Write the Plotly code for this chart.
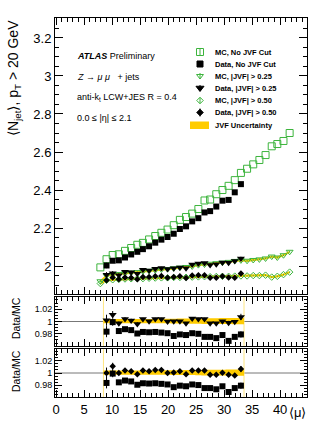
import plotly.graph_objects as go

# ---------------- data ----------------
mu_mc = [7.9, 9.0, 10.1, 11.2, 12.3, 13.4, 14.5, 15.5, 16.6, 17.7, 18.8, 19.9, 21.0, 22.1,
         23.2, 24.3, 25.4, 26.5, 27.5, 28.6, 29.7, 30.8, 31.9, 33.0, 34.1, 35.2, 36.3,
         37.4, 38.5, 39.5, 40.6, 41.7]
mu_data = [9.0, 10.1, 11.2, 12.3, 13.4, 14.5, 15.5, 16.6, 17.7, 18.8, 19.9, 21.0, 22.1,
           23.2, 24.3, 25.4, 26.5, 27.5, 28.6, 29.7, 30.8, 31.9, 33.0]

mc_nocut = [1.993, 2.036, 2.058, 2.062, 2.080, 2.095, 2.112, 2.122, 2.140, 2.158, 2.175,
            2.192, 2.215, 2.243, 2.258, 2.276, 2.300, 2.345, 2.350, 2.378, 2.400, 2.422,
            2.452, 2.490, 2.512, 2.535, 2.558, 2.584, 2.630, 2.642, 2.658, 2.700]
mc_jvf025 = [1.920, 1.950, 1.955, 1.958, 1.962, 1.965, 1.968, 1.972, 1.975, 1.978, 1.982,
             1.984, 1.988, 1.992, 1.995, 1.998, 2.005, 2.008, 2.012, 2.015, 2.018, 2.022,
             2.027, 2.030, 2.028, 2.032, 2.035, 2.040, 2.050, 2.045, 2.057, 2.075]
mc_jvf050 = [1.908, 1.925, 1.928, 1.930, 1.932, 1.933, 1.934, 1.934, 1.936, 1.937, 1.938,
             1.938, 1.940, 1.940, 1.941, 1.942, 1.943, 1.944, 1.944, 1.945, 1.946, 1.946,
             1.947, 1.948, 1.948, 1.950, 1.950, 1.952, 1.942, 1.946, 1.955, 1.968]
mc_unc = [0.006] * 32

data_nocut = [2.003, 2.028, 2.030, 2.045, 2.061, 2.075, 2.089, 2.104, 2.123, 2.139, 2.153,
              2.170, 2.195, 2.209, 2.235, 2.252, 2.282, 2.289, 2.313, 2.344, 2.348, 2.388, 2.431]
data_jvf025 = [1.954, 1.962, 1.952, 1.970, 1.968, 1.960, 1.980, 1.976, 1.986, 1.990, 1.984,
               1.989, 1.993, 1.989, 2.008, 2.013, 2.016, 2.006, 2.009, 2.019, 2.018, 2.026, 2.040]
data_jvf050 = [1.925, 1.940, 1.930, 1.940, 1.939, 1.930, 1.942, 1.942, 1.947, 1.948, 1.938,
               1.942, 1.946, 1.937, 1.950, 1.951, 1.952, 1.938, 1.939, 1.947, 1.940, 1.939, 1.961]
data_err = [0.014, 0.012, 0.009, 0.008, 0.007, 0.007, 0.006, 0.006, 0.006, 0.006, 0.006,
            0.006, 0.006, 0.006, 0.006, 0.006, 0.006, 0.006, 0.006, 0.006, 0.007, 0.007, 0.009]

ratio_nocut = [0.9835, 0.999, 0.9845, 0.9875, 0.986, 0.9805, 0.983, 0.9825, 0.983, 0.982,
               0.981, 0.9765, 0.979, 0.978, 0.981, 0.980, 0.975, 0.975, 0.973, 0.978,
               0.9685, 0.975, 0.979]
ratio_jvf025 = [1.002, 1.011, 0.997, 1.004, 1.0015, 0.996, 1.004, 1.0005, 1.004, 1.004,
                1.000, 1.0005, 1.0005, 0.997, 1.005, 1.004, 1.004, 0.997, 0.997, 1.0005,
                0.998, 0.9995, 1.0075]
ratio_jvf050 = [1.000, 1.011, 1.000, 1.004, 1.003, 0.998, 1.004, 1.003, 1.005, 1.005,
                1.000, 1.001, 1.003, 0.998, 1.004, 1.004, 1.004, 0.997, 0.997, 1.0005,
                0.997, 0.996, 1.0065]
ratio_err = [0.009, 0.006, 0.003, 0.003, 0.003, 0.003, 0.002, 0.002, 0.002, 0.002, 0.002,
             0.002, 0.002, 0.002, 0.002, 0.002, 0.002, 0.002, 0.002, 0.002, 0.003, 0.003, 0.005]
band_lo = [0.997, 0.997, 0.997, 0.997, 0.997, 0.997, 0.997, 0.997, 0.997, 0.997, 0.997,
           0.9968, 0.9968, 0.9966, 0.9965, 0.9963, 0.996, 0.996, 0.996, 0.9958, 0.9958,
           0.9955, 0.9955]
band_hi = [1.004, 1.004, 1.004, 1.004, 1.004, 1.004, 1.0042, 1.0042, 1.0043, 1.0044, 1.0045,
           1.0046, 1.0047, 1.0048, 1.005, 1.005, 1.0052, 1.0053, 1.0054, 1.0055, 1.0056,
           1.0057, 1.0058]

legend_labels = ["MC, No JVF Cut", "Data, No JVF Cut", "MC, |JVF| > 0.25",
                 "Data, |JVF| > 0.25", "MC, |JVF| > 0.50", "Data, |JVF| > 0.50",
                 "JVF Uncertainty"]

# ---------------- styling ----------------
FONT = "Liberation Sans, Arial, Helvetica, sans-serif"
GREEN = "#3cb43c"
YELLOW = "#ffcc00"
W, H = 327, 423
L, R, T, B = 55, 20, 18, 26
PW, PH = W - L - R, H - T - B


def fx(x):
    return (x - L) / PW


def fy(y):
    return (H - B - y) / PH


fig = go.Figure()

# main panel yellow bands around MC JVF curves
for mc in (mc_jvf025, mc_jvf050):
    fig.add_trace(go.Scatter(x=mu_mc, y=[v - e for v, e in zip(mc, mc_unc)], mode="lines",
                             line=dict(width=0, color=YELLOW), showlegend=False,
                             hoverinfo="skip", xaxis="x", yaxis="y"))
    fig.add_trace(go.Scatter(x=mu_mc, y=[v + e for v, e in zip(mc, mc_unc)], mode="lines",
                             line=dict(width=0, color=YELLOW), fill="tonexty",
                             fillcolor=YELLOW, showlegend=False, hoverinfo="skip",
                             xaxis="x", yaxis="y"))

# MC markers
fig.add_trace(go.Scatter(x=mu_mc, y=mc_nocut, mode="markers",
                         marker=dict(symbol="square-open", size=7, color=GREEN,
                                     line=dict(width=1, color=GREEN)),
                         showlegend=False, xaxis="x", yaxis="y"))
fig.add_trace(go.Scatter(x=mu_mc, y=mc_jvf025, mode="markers",
                         marker=dict(symbol="triangle-down-open", size=6, color=GREEN,
                                     line=dict(width=1, color=GREEN)),
                         error_y=dict(type="constant", value=0.004, color=GREEN,
                                      thickness=1, width=0),
                         showlegend=False, xaxis="x", yaxis="y"))
fig.add_trace(go.Scatter(x=mu_mc, y=mc_jvf050, mode="markers",
                         marker=dict(symbol="diamond-open", size=5, color=GREEN,
                                     line=dict(width=1, color=GREEN)),
                         error_y=dict(type="constant", value=0.004, color=GREEN,
                                      thickness=1, width=0),
                         showlegend=False, xaxis="x", yaxis="y"))

# data markers
fig.add_trace(go.Scatter(x=mu_data, y=data_nocut, mode="markers",
                         marker=dict(symbol="square", size=6, color="black"),
                         error_y=dict(type="data", array=data_err, color="black",
                                      thickness=1, width=0),
                         showlegend=False, xaxis="x", yaxis="y"))
fig.add_trace(go.Scatter(x=mu_data, y=data_jvf025, mode="markers",
                         marker=dict(symbol="triangle-down", size=7, color="black"),
                         error_y=dict(type="data", array=data_err, color="black",
                                      thickness=1, width=0),
                         showlegend=False, xaxis="x", yaxis="y"))
fig.add_trace(go.Scatter(x=mu_data, y=data_jvf050, mode="markers",
                         marker=dict(symbol="diamond", size=5, color="black"),
                         error_y=dict(type="data", array=data_err, color="black",
                                      thickness=1, width=0),
                         showlegend=False, xaxis="x", yaxis="y"))

# ratio panels
half = (mu_data[1] - mu_data[0]) / 2
edges = [m - half for m in mu_data] + [mu_data[-1] + half]
for ya, xa, rj in (("y2", "x2", ratio_jvf025), ("y3", "x3", ratio_jvf050)):
    fig.add_trace(go.Scatter(x=edges, y=band_lo + [band_lo[-1]], mode="lines",
                             line=dict(width=0, color=YELLOW, shape="hv"),
                             showlegend=False, hoverinfo="skip", xaxis=xa, yaxis=ya))
    fig.add_trace(go.Scatter(x=edges, y=band_hi + [band_hi[-1]], mode="lines",
                             line=dict(width=0, color=YELLOW, shape="hv"), fill="tonexty",
                             fillcolor=YELLOW, showlegend=False, hoverinfo="skip",
                             xaxis=xa, yaxis=ya))
    fig.add_trace(go.Scatter(x=mu_data, y=ratio_nocut, mode="markers",
                             marker=dict(symbol="square", size=6, color="black"),
                             error_y=dict(type="data", array=ratio_err, color="black",
                                          thickness=1, width=0),
                             showlegend=False, xaxis=xa, yaxis=ya))
    sym = "triangle-down" if ya == "y2" else "diamond"
    sz = 7 if ya == "y2" else 5
    fig.add_trace(go.Scatter(x=mu_data, y=rj, mode="markers",
                             marker=dict(symbol=sym, size=sz, color="black"),
                             error_y=dict(type="data", array=ratio_err, color="black",
                                          thickness=1, width=0),
                             showlegend=False, xaxis=xa, yaxis=ya))

# legend markers (pixel-coordinate overlay axis)
leg_x = 200
leg_rows = [52, 64, 76, 88, 100.5, 112.5]
leg_sym = ["square-open", "square", "triangle-down-open", "triangle-down",
           "diamond-open", "diamond"]
leg_col = [GREEN, "black", GREEN, "black", GREEN, "black"]
leg_size = [7, 6, 6, 7, 5, 5]
leg_err = [3, 0, 3, 3, 3, 4]
for i in range(6):
    fig.add_trace(go.Scatter(x=[leg_x], y=[leg_rows[i]], mode="markers",
                             marker=dict(symbol=leg_sym[i], size=leg_size[i],
                                         color=leg_col[i], line=dict(width=1, color=leg_col[i])),
                             error_y=dict(type="constant", value=leg_err[i], color=leg_col[i],
                                          thickness=1, width=0),
                             showlegend=False, hoverinfo="skip", xaxis="x4", yaxis="y4",
                             cliponaxis=False))


def axis(**kw):
    d = dict(showline=True, linecolor="black", linewidth=1, mirror="allticks",
             ticks="inside", tickcolor="black", showgrid=False, zeroline=False,
             automargin=False,
             tickfont=dict(family=FONT, size=13, color="black"))
    d.update(kw)
    return d


xr = [-0.2, 44.8]


def xaxis(**kw):
    return axis(range=xr, tickmode="linear", dtick=5, tick0=0, ticklen=7,
                minor=dict(ticks="inside", dtick=1, ticklen=4, tickcolor="black"), **kw)


def ratio_y(dom, anchor):
    return axis(domain=dom, anchor=anchor, range=[0.9602, 1.0398], tickmode="linear",
                dtick=0.02, tick0=1.0, ticklen=7,
                tickfont=dict(family=FONT, size=9, color="black"),
                minor=dict(ticks="inside", dtick=0.005, ticklen=3, tickcolor="black"))


fig.update_layout(
    width=W, height=H,
    margin=dict(l=L, r=R, t=T, b=B, autoexpand=False),
    paper_bgcolor="white", plot_bgcolor="rgba(0,0,0,0)",
    font=dict(family=FONT, color="black"),
    xaxis=xaxis(domain=[0, 1], anchor="y", showticklabels=False),
    yaxis=axis(domain=[fy(294), 1], anchor="x", range=[1.853, 3.305], tickmode="linear",
               dtick=0.2, tick0=2.0, ticklen=8,
               minor=dict(ticks="inside", dtick=0.05, ticklen=4, tickcolor="black")),
    xaxis2=xaxis(domain=[0, 1], anchor="y2", showticklabels=False),
    yaxis2=ratio_y([fy(346), fy(297)], "x2"),
    xaxis3=xaxis(domain=[0, 1], anchor="y3", showticklabels=True),
    yaxis3=ratio_y([0, fy(349)], "x3"),
    xaxis4=dict(domain=[0, 1], range=[L, W - R], visible=False, anchor="y4",
                fixedrange=True, automargin=False),
    yaxis4=dict(domain=[0, 1], range=[H - B, T], visible=False, anchor="x4",
                fixedrange=True, automargin=False),
)

# unity lines in ratio panels and band edges
for xa, ya in (("x2", "y2"), ("x3", "y3")):
    fig.add_shape(type="line", xref=f"{xa} domain", yref=ya, x0=0, x1=1, y0=1, y1=1,
                  line=dict(color="#777777", width=1), layer="below")
    for xv in (edges[0], edges[-1]):
        fig.add_shape(type="line", xref=xa, yref=f"{ya} domain", x0=xv, x1=xv, y0=0, y1=1,
                      line=dict(color="#ffe680", width=1), layer="below")

# legend yellow box
fig.add_shape(type="rect", xref="x4", yref="y4", x0=190, x1=209, y0=121.5, y1=129,
              fillcolor=YELLOW, line=dict(width=0))

ann = []
for i, lab in enumerate(legend_labels):
    yrow = leg_rows[i] if i < 6 else 125
    ann.append(dict(x=fx(213), y=fy(yrow), xref="paper", yref="paper", xanchor="left",
                    yanchor="middle", showarrow=False, text=f"<b>{lab}</b>",
                    font=dict(family=FONT, size=7.5, color="black")))

txt = [
    (56, "<b><i>ATLAS</i></b> Preliminary"),
    (77, "<i>Z</i> → <i>μ μ</i>   + jets"),
    (98, "anti-k<sub>t</sub> LCW+JES R = 0.4"),
    (118, "0.0 ≤ |η| ≤ 2.1"),
]
for yy, t in txt:
    ann.append(dict(x=fx(75), y=fy(yy), xref="paper", yref="paper", xanchor="left",
                    yanchor="middle", showarrow=False, text=t,
                    font=dict(family=FONT, size=9, color="black")))

ann += [
    dict(x=fx(14), y=fy(18), xref="paper", yref="paper", xanchor="center", yanchor="top",
         textangle=-90, showarrow=False,
         text="⟨N<sub>jet</sub>⟩, p<sub>T</sub> > 20 GeV",
         font=dict(family=FONT, size=14, color="black")),
    dict(x=fx(16), y=fy(318), xref="paper", yref="paper", xanchor="center",
         yanchor="middle", textangle=-90, showarrow=False, text="Data/MC",
         font=dict(family=FONT, size=10.5, color="black")),
    dict(x=fx(16), y=fy(371), xref="paper", yref="paper", xanchor="center",
         yanchor="middle", textangle=-90, showarrow=False, text="Data/MC",
         font=dict(family=FONT, size=10.5, color="black")),
    dict(x=fx(298), y=fy(412), xref="paper", yref="paper", xanchor="center",
         yanchor="middle", showarrow=False, text="⟨μ⟩",
         font=dict(family=FONT, size=13, color="black")),
]
fig.update_layout(annotations=ann)

fig.write_html("out.html", config={"displayModeBar": False},
               post_script="document.body.style.margin='0px';"
                           "document.body.style.overflow='hidden';")
